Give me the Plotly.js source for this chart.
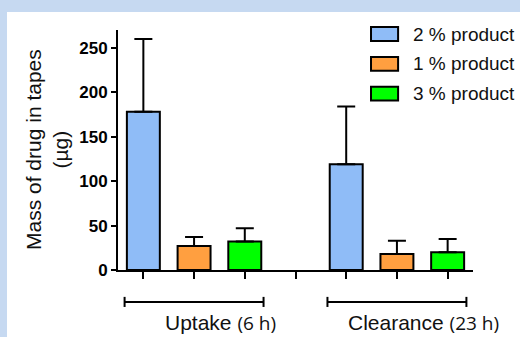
<!DOCTYPE html>
<html>
<head>
<meta charset="utf-8">
<script src="https://cdn.plot.ly/plotly-3.0.1.min.js"></script>
<style>
html,body{margin:0;padding:0;background:#c6d9f1;width:520px;height:337px;overflow:hidden;}
#chart{position:absolute;left:7px;top:12px;width:513px;height:325px;background:#fff;}
</style>
</head>
<body>
<div id="chart"></div>
<script>
// ---- data ----
const groups = ["Uptake", "Clearance"];
const groupNotes = ["(6 h)", "(23 h)"];
const seriesNames = ["2 % product", "1 % product", "3 % product"];
const seriesColors = ["#8fbcf7", "#ff9f40", "#00ff00"];
// means per series, per group [Uptake, Clearance]
const mean2 = [178, 119];
const mean1 = [27, 18];
const mean3 = [32, 20];
// upper error (SD) per series, per group
const err2 = [82, 65];
const err1 = [10, 15];
const err3 = [15, 15];
const yTicks = [0, 50, 100, 150, 200, 250];

const means = [mean2, mean1, mean3];
const errs = [err2, err1, err3];
const slot = seriesNames.length + 1; // one empty slot between groups

const traces = seriesNames.map((name, s) => ({
  type: "bar",
  name: name,
  x: groups.map((g, gi) => gi * slot + s),
  y: means[s],
  width: 0.65,
  marker: {color: seriesColors[s], line: {color: "#000", width: 2}},
  error_y: {type: "data", symmetric: false, array: errs[s], arrayminus: groups.map(() => 0),
            color: "#000", thickness: 2, width: 9},
  showlegend: false,
  hoverinfo: "skip"
}));

const shapes = [];
const annotations = [];
// group brackets and labels
groups.forEach((g, gi) => {
  const x0 = gi * slot - 0.37, x1 = gi * slot + seriesNames.length - 1 + 0.37;
  const yb = -0.133;
  shapes.push({type: "line", xref: "x", yref: "paper", x0: x0, x1: x1, y0: yb, y1: yb, line: {color: "#000", width: 2}});
  shapes.push({type: "line", xref: "x", yref: "paper", x0: x0, x1: x0, y0: yb - 0.021, y1: yb + 0.021, line: {color: "#000", width: 2}});
  shapes.push({type: "line", xref: "x", yref: "paper", x0: x1, x1: x1, y0: yb - 0.021, y1: yb + 0.021, line: {color: "#000", width: 2}});
  annotations.push({
    xref: "x", yref: "paper", x: gi * slot + 1 + 0.52, y: -0.22, xanchor: "center", yanchor: "middle",
    showarrow: false,
    text: g + " <span style='font-family:Open Sans;font-size:19px'>" + groupNotes[gi] + "</span>",
    font: {family: "Liberation Sans, Arial", size: 21, color: "#111"}
  });
});
// legend (manual, to match large swatches)
seriesNames.forEach((name, s) => {
  const yc = 0.983 - s * 0.124;
  shapes.push({type: "rect", xref: "paper", yref: "paper", x0: 0.7127, x1: 0.789, y0: yc - 0.029, y1: yc + 0.029,
    fillcolor: seriesColors[s], line: {color: "#000", width: 2}});
  annotations.push({xref: "paper", yref: "paper", x: 0.826, y: yc, xanchor: "left", yanchor: "middle",
    showarrow: false, text: name, font: {family: "Liberation Sans, Arial", size: 19, color: "#111"}});
});
// y axis title
annotations.push({xref: "paper", yref: "paper", x: -0.2, y: 0.5, xanchor: "center", yanchor: "middle",
  textangle: -90, showarrow: false, text: "Mass of drug in tapes<br>(µg)",
  font: {family: "Liberation Sans, Arial", size: 21, color: "#111"}});

const layout = {
  width: 513, height: 325,
  margin: {l: 111, r: 47, t: 18, b: 67},
  paper_bgcolor: "#ffffff", plot_bgcolor: "#ffffff",
  bargap: 0,
  xaxis: {range: [-0.5, groups.length * slot - 1.5], tickvals: [0,1,2,3,4,5,6], showticklabels: false,
          ticks: "outside", ticklen: 7, tickwidth: 2, tickcolor: "#000",
          showline: true, linecolor: "#000", linewidth: 2, showgrid: false, zeroline: false, fixedrange: true},
  yaxis: {range: [0, 270], tickvals: yTicks, ticks: "outside", ticklen: 5, tickwidth: 2, tickcolor: "#000",
          showline: true, linecolor: "#000", linewidth: 2, showgrid: false, zeroline: false,
          tickfont: {family: "Liberation Sans, Arial", size: 17, color: "#000", weight: "bold"}, fixedrange: true},
  shapes: shapes,
  annotations: annotations,
  showlegend: false
};

Plotly.newPlot("chart", traces, layout, {displayModeBar: false, staticPlot: true});
</script>
</body>
</html>
